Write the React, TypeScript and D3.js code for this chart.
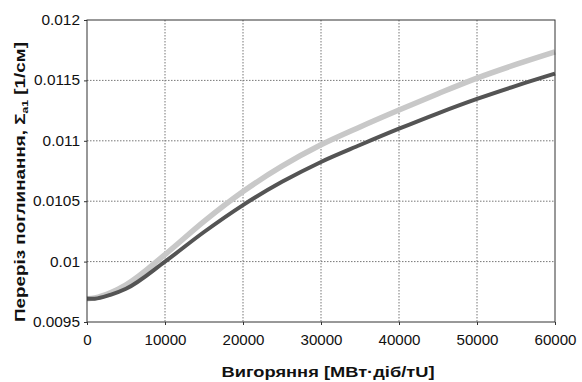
import React, { useEffect, useRef } from 'react';
import * as d3 from 'd3';

const burnup = [0, 1000, 3000, 5000, 10000, 15000, 20000, 25000, 30000, 35000, 40000, 45000, 50000, 55000, 60000];
const sigmaLight = [0.009692, 0.0097, 0.009742, 0.009808, 0.010058, 0.010333, 0.01058, 0.01079, 0.010967, 0.011115, 0.011255, 0.01139, 0.011519, 0.011632, 0.011736];
const sigmaDark = [0.009692, 0.009693, 0.009725, 0.009775, 0.01, 0.010245, 0.010468, 0.01066, 0.010825, 0.010965, 0.0111, 0.011228, 0.011347, 0.011455, 0.011556];
const xTicks = [0, 10000, 20000, 30000, 40000, 50000, 60000];
const yTicks = [0.0095, 0.01, 0.0105, 0.011, 0.0115, 0.012];

const W = 582;
const H = 382;
const MARGIN = { top: 20, right: 27, bottom: 60, left: 87 };
const FONT = 'Liberation Sans, Arial, sans-serif';

// the source image is a bit wider than tall, so text is stretched horizontally
const stretch = (sel: d3.Selection<SVGTextElement, any, any, any>, k: number) => {
    sel.each(function () {
        const w = this.getComputedTextLength();
        d3.select(this).attr('textLength', w * k).attr('lengthAdjust', 'spacingAndGlyphs');
    });
};

const App: React.FC = () => {
    const svgRef = useRef<SVGSVGElement | null>(null);

    useEffect(() => {
        const svg = d3.select(svgRef.current);
        svg.selectAll('*').remove();

        const width = W - MARGIN.left - MARGIN.right;
        const height = H - MARGIN.top - MARGIN.bottom;

        const x = d3.scaleLinear().domain([0, 60000]).range([0, width]);
        const y = d3.scaleLinear().domain([0.0095, 0.012]).range([height, 0]);

        const g = svg.append('g')
            .attr('transform', `translate(${MARGIN.left},${MARGIN.top})`)
            .style('font-family', FONT);

        // dotted grid
        g.append('g').selectAll('line').data(xTicks.slice(1, -1)).enter().append('line')
            .attr('x1', d => x(d)).attr('x2', d => x(d))
            .attr('y1', 0).attr('y2', height)
            .attr('stroke', '#777').attr('stroke-width', 1).attr('stroke-dasharray', '1.5,1.5');
        g.append('g').selectAll('line').data(yTicks.slice(1, -1)).enter().append('line')
            .attr('x1', 0).attr('x2', width)
            .attr('y1', d => y(d)).attr('y2', d => y(d))
            .attr('stroke', '#777').attr('stroke-width', 1).attr('stroke-dasharray', '1.5,1.5');

        const line = d3.line<number>()
            .x((_, i) => x(burnup[i]))
            .y(d => y(d))
            .curve(d3.curveMonotoneX);

        g.append('path').datum(sigmaLight)
            .attr('d', line).attr('fill', 'none')
            .attr('stroke', '#c8c8c8').attr('stroke-width', 5.5);
        g.append('path').datum(sigmaDark)
            .attr('d', line).attr('fill', 'none')
            .attr('stroke', '#545454').attr('stroke-width', 4);

        // frame
        g.append('rect')
            .attr('x', 0).attr('y', 0).attr('width', width).attr('height', height)
            .attr('fill', 'none').attr('stroke', '#333').attr('stroke-width', 1);

        const yAxis = g.append('g')
            .call(d3.axisLeft(y).tickValues(yTicks).tickSize(3).tickPadding(4).tickFormat(d => String(+d)));
        yAxis.select('.domain').remove();
        yAxis.selectAll('line').attr('stroke', '#333');
        const yLabels = yAxis.selectAll<SVGTextElement, unknown>('text')
            .style('font-size', '14px').style('font-family', FONT).attr('fill', '#111');
        stretch(yLabels, 1.1);

        const xAxis = g.append('g')
            .attr('transform', `translate(0,${height})`)
            .call(d3.axisBottom(x).tickValues(xTicks).tickSize(3).tickPadding(10).tickFormat(d => String(d)));
        xAxis.select('.domain').remove();
        xAxis.selectAll('line').attr('stroke', '#333');
        const xLabels = xAxis.selectAll<SVGTextElement, unknown>('text')
            .style('font-size', '14px').style('font-family', FONT).attr('fill', '#111');
        stretch(xLabels, 1.08);

        g.append('text')
            .attr('x', 241).attr('y', height + 55)
            .attr('text-anchor', 'middle')
            .attr('textLength', 213).attr('lengthAdjust', 'spacingAndGlyphs')
            .style('font-size', '14px').style('font-weight', 'bold').attr('fill', '#111')
            .text('Вигоряння [МВт·діб/тU]');

        const yt = g.append('text')
            .attr('transform', `translate(${-62},${162}) rotate(-90)`)
            .attr('text-anchor', 'middle')
            .attr('textLength', 280).attr('lengthAdjust', 'spacingAndGlyphs')
            .style('font-size', '14px').style('font-weight', 'bold').attr('fill', '#111');
        yt.append('tspan').text('Переріз поглинання, Σ');
        yt.append('tspan').attr('dy', 3).style('font-size', '9px').text('a1');
        yt.append('tspan').attr('dy', -3).text(' [1/см]');
    }, []);

    return <svg ref={svgRef} width={W} height={H} style={{ position: 'absolute', left: 0, top: 0, background: '#fff' }} />;
};

export default App;
